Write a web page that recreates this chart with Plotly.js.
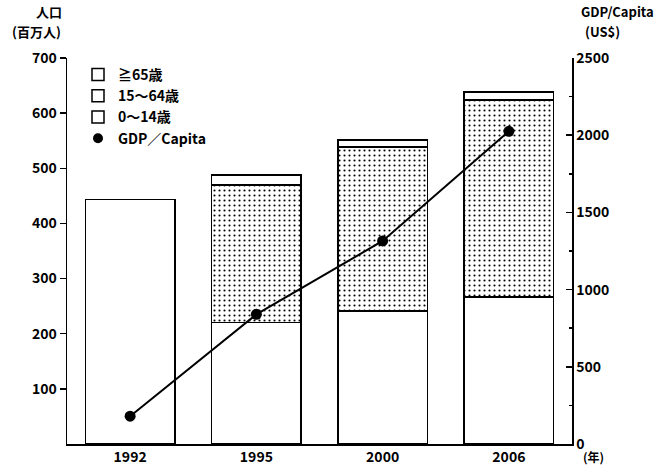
<!DOCTYPE html>
<html>
<head>
<meta charset="utf-8">
<script src="https://cdn.plot.ly/plotly-3.0.1.min.js"></script>
<style>
  html, body { margin: 0; padding: 0; background: #fff; }
  #chart { width: 662px; height: 465px; }
</style>
</head>
<body>
<div id="chart"></div>
<script>
// ---- data ----
const years = ['1992', '1995', '2000', '2006'];
const total1992 = [443, null, null, null];          // 1992: total only (百万人)
const age0_14 = [null, 220, 241, 267];             // 0~14歳
const age15_64 = [null, 250, 298, 357];            // 15~64歳
const age65plus = [null, 18, 12, 14];              // ≥65歳
const gdpPerCapita = [180, 840, 1315, 2025];       // US$
const leftTicks = [100, 200, 300, 400, 500, 600, 700];

// ---- layout helpers ----
const L = 67, R = 572, T = 58, B = 444;
const px = x => (x - L) / (R - L);
const py = y => (B - y) / (B - T);
const FONT = '"Noto Sans CJK JP", "Noto Sans", sans-serif';
const TF = { size: 14, family: FONT, weight: 'bold' };

const barLine = { color: '#000', width: 1.5 };

const traces = [
  { type: 'bar', x: years, y: total1992, name: 'total', showlegend: false,
    marker: { color: '#fff', line: barLine }, hoverinfo: 'skip' },
  { type: 'bar', x: years, y: age0_14, name: '0～14歳', legendrank: 3,
    marker: { color: '#fff', line: barLine } },
  { type: 'bar', x: years, y: age15_64, name: '15～64歳', showlegend: false,
    marker: { color: '#fff', line: barLine,
      pattern: { shape: '.', fgcolor: '#000', bgcolor: '#fff', size: 5, solidity: 0.14 } } },
  { type: 'bar', x: years, y: age65plus, name: '≧65歳', legendrank: 1,
    marker: { color: '#fff', line: barLine } },
  { type: 'bar', x: [null], y: [null], name: '15～64歳', legendrank: 2,
    marker: { color: '#fff', line: barLine } },
  { type: 'scatter', mode: 'lines+markers', x: years, y: gdpPerCapita, yaxis: 'y2',
    name: 'GDP／Capita', showlegend: false,
    line: { color: '#000', width: 2 }, marker: { color: '#000', size: 11 } },
  { type: 'scatter', mode: 'markers', x: [null], y: [null], yaxis: 'y2',
    name: 'GDP／Capita', legendrank: 4, marker: { color: '#000', size: 10 } }
];

const ann = (text, x, y, size) => ({ text, xref: 'paper', yref: 'paper', x: px(x), y: py(y),
  xanchor: 'center', yanchor: 'middle', showarrow: false,
  font: { size: size, family: FONT, weight: 'bold' } });

const layout = {
  width: 662, height: 465,
  margin: { l: L, r: 662 - R, t: T, b: 465 - B },
  paper_bgcolor: '#fff', plot_bgcolor: 'rgba(0,0,0,0)',
  font: { family: FONT, size: 14, color: '#000' },
  barmode: 'stack', bargap: 0.29,
  showlegend: true,
  legend: { x: px(78), y: py(59), xanchor: 'left', yanchor: 'top',
    bgcolor: 'rgba(0,0,0,0)', font: TF,
    traceorder: 'normal', itemwidth: 30, tracegroupgap: 0 },
  xaxis: { type: 'category', showline: true, linecolor: '#000', linewidth: 1.5,
    ticks: '', showgrid: false, zeroline: false, tickfont: TF },
  yaxis: { range: [0, 700], tickvals: leftTicks, ticks: 'outside', ticklen: 6,
    tickwidth: 1.5, tickcolor: '#000', showline: true, linecolor: '#000', linewidth: 1.5,
    showgrid: false, zeroline: false, tickfont: TF },
  yaxis2: { overlaying: 'y', side: 'right', range: [0, 2500], dtick: 500,
    ticks: 'inside', ticklen: 6, tickwidth: 1.5, tickcolor: '#000',
    minor: { dtick: 250, ticks: 'inside', ticklen: 3, tickcolor: '#000', tickwidth: 1.5 },
    showline: true, linecolor: '#000', linewidth: 1.5, showgrid: false, zeroline: false,
    tickfont: TF },
  annotations: [
    ann('人口', 49, 11, 13),
    ann('(百万人)', 36, 32, 13),
    ann('GDP/Capita', 617, 11, 13),
    ann('(US$)', 602, 32, 13),
    ann('(年)', 593, 457, 12)
  ]
};

Plotly.newPlot('chart', traces, layout, { displayModeBar: false, staticPlot: true });
</script>
</body>
</html>
